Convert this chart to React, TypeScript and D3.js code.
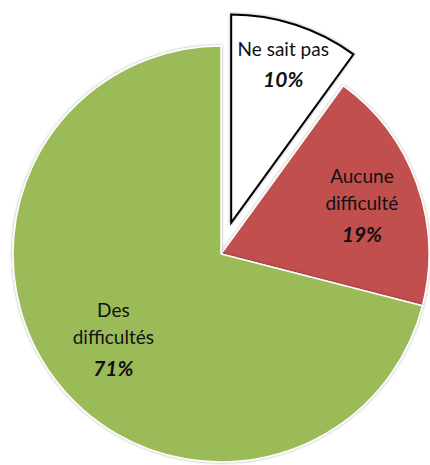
import * as React from 'react'
import { useEffect, useRef } from 'react'
import * as d3 from 'd3'

// data
const categories = ['Ne sait pas', 'Aucune difficulté', 'Des difficultés']
const labelLines = [['Ne sait pas'], ['Aucune', 'difficulté'], ['Des', 'difficultés']]
const values = [10, 19, 71]
const colors = ['#ffffff', '#c0504d', '#9bbb59']
const exploded = [true, false, false]

interface Slice {
    name: string
    lines: string[]
    value: number
    color: string
    explode: boolean
}

const slices: Slice[] = categories.map((name, i) => ({
    name,
    lines: labelLines[i],
    value: values[i],
    color: colors[i],
    explode: exploded[i],
}))

const width = 430
const height = 465

export default function App() {
    const node = useRef<SVGSVGElement | null>(null)

    useEffect(() => {
        if (!node.current)
            return
        const svg = d3.select(node.current)
        svg.selectAll('*').remove()

        const cx = 221
        const cy = 254
        const radius = 208
        const explodeBy = 33
        // label distance from centre, as a share of the radius
        const labelRadius = [0.81, 0.72, 0.655]

        const defs = svg.append('defs')
        const shadow = defs.append('filter').attr('id', 'shadow')
            .attr('x', '-10%').attr('y', '-10%').attr('width', '120%').attr('height', '120%')
        shadow.append('feDropShadow')
            .attr('dx', 0).attr('dy', 0).attr('stdDeviation', 1.5)
            .attr('flood-color', '#000').attr('flood-opacity', 0.35)

        const pie = d3.pie<Slice>().sort(null).value(d => d.value)
        const arc = d3.arc<d3.PieArcDatum<Slice>>().innerRadius(0).outerRadius(radius)
        const arcs = pie(slices)

        const g = svg.append('g').attr('transform', `translate(${cx},${cy})`)

        const offset = (d: d3.PieArcDatum<Slice>) => {
            if (!d.data.explode) return [0, 0]
            const mid = (d.startAngle + d.endAngle) / 2
            return [Math.sin(mid) * explodeBy, -Math.cos(mid) * explodeBy]
        }

        // slices
        g.selectAll('path.slice')
            .data(arcs)
            .enter().append('path')
            .attr('class', 'slice')
            .attr('transform', d => `translate(${offset(d).join(',')})`)
            .attr('d', arc)
            .attr('fill', d => d.data.color)
            .attr('stroke', d => d.data.explode ? '#000' : '#fff')
            .attr('stroke-width', d => d.data.explode ? 2 : 1.5)
            .attr('stroke-linejoin', 'miter')
            .attr('filter', 'url(#shadow)')

        // labels
        const fontSize = 19
        const lineGap = 27
        arcs.forEach((d, idx) => {
            const r = labelRadius[idx] * radius
            const mid = (d.startAngle + d.endAngle) / 2
            const [ox, oy] = offset(d)
            const x = ox + Math.sin(mid) * r
            const y = oy - Math.cos(mid) * r
            const lines = [...d.data.lines, `${d.data.value}%`]
            const top = y - ((lines.length - 1) * lineGap) / 2
            const text = g.append('text')
                .attr('text-anchor', 'middle')
                .attr('font-family', 'Lato, "Open Sans", sans-serif')
                .attr('font-size', fontSize)
                .attr('fill', '#111')
            lines.forEach((line, i) => {
                const isPct = i === lines.length - 1
                text.append('tspan')
                    .attr('x', x)
                    .attr('y', top + i * lineGap + (isPct ? 4 : 0))
                    .attr('dy', '0.35em')
                    .attr('font-weight', isPct ? 'bold' : 'normal')
                    .attr('font-style', isPct ? 'italic' : 'normal')
                    .attr('font-size', isPct ? 21 : fontSize)
                    .text(line)
            })
        })
    }, [])

    return (
        <svg
            ref={node}
            width={width}
            height={height}
            style={{ position: 'absolute', left: 0, top: 0, background: '#fff' }} />
    )
}
